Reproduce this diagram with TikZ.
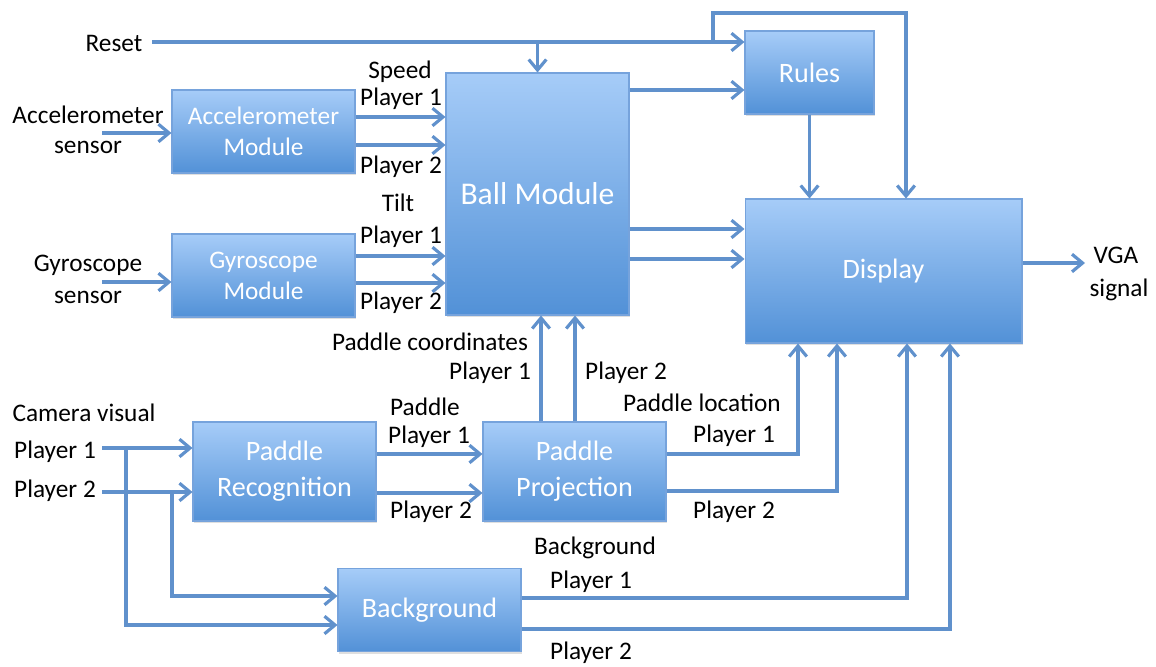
\documentclass[tikz,border=0pt]{standalone}
\usepackage{fontspec}
\setmainfont{Carlito}
\usetikzlibrary{positioning,arrows.meta,shadows}

\definecolor{boxtop}{RGB}{166,204,248}
\definecolor{boxbot}{RGB}{82,145,215}
\definecolor{boxline}{RGB}{118,163,220}
\definecolor{linkblue}{RGB}{96,145,204}

\tikzset{
  blk/.style={draw=boxline, line width=0.6pt, top color=boxtop, bottom color=boxbot,
    text=white, align=center, inner sep=0pt,
    minimum width=3.66cm, minimum height=1.66cm,
    font=\fontsize{16}{20.5}\selectfont,
    drop shadow={shadow xshift=0.8pt, shadow yshift=-1.2pt, opacity=0.25}},
  small/.style={font=\fontsize{14.4}{17.6}\selectfont},
  lbl/.style={font=\fontsize{14.4}{17.6}\selectfont, inner sep=0pt},
  arr/.style={draw=linkblue, line width=1.8pt, -{Straight Barb[length=6pt,width=10pt]}}
}

\begin{document}
\begin{tikzpicture}[x=0.02cm,y=-0.02cm]
\useasboundingbox (0,0) rectangle (1156,666);

\node[blk,small] (acc) at (263.5,131.5) {Accelerometer\\Module};
\node[blk,small] (gyr) at (263.5,275.5) {Gyroscope\\Module};
\node[blk,minimum height=4.84cm,font=\fontsize{18}{22}\selectfont] (ball) at (537.5,194) {Ball Module};
\node[blk,minimum width=2.58cm] (rules) at (809.5,72.5) {Rules};
\node[blk,minimum width=5.54cm,minimum height=2.88cm] (disp) at (883.5,271) {Display};
\node[blk,minimum height=1.98cm] (rec) at (284.5,471.5) {Paddle\\Recognition};
\node[blk,minimum height=1.98cm] (proj) at (574.5,471.5) {Paddle\\Projection};
\node[blk] (bg) at (429.5,610) {Background};

\node[lbl] (reset) at (114,43) {Reset};
\node[lbl] (accs1) at (88,115) {Accelerometer};
\node[lbl] (accs2) at (88,147) {sensor};
\node[lbl] (gyrs1) at (88,265) {Gyroscope};
\node[lbl] (gyrs2) at (88,297) {sensor};
\node[lbl] (speed) at (400,72) {Speed};
\node[lbl] (sp1) at (401,99) {Player 1};
\node[lbl] (sp2) at (401,167) {Player 2};
\node[lbl] (tilt) at (398,203) {Tilt};
\node[lbl] (tp1) at (401,237) {Player 1};
\node[lbl] (tp2) at (401,303) {Player 2};
\node[lbl] (coord) at (430,342) {Paddle coordinates};
\node[lbl] (cp1) at (490,373) {Player 1};
\node[lbl] (cp2) at (626,373) {Player 2};
\node[lbl] (cam) at (84,413) {Camera visual};
\node[lbl] (cam1) at (55,452) {Player 1};
\node[lbl] (cam2) at (55,491) {Player 2};
\node[lbl] (pad) at (425,407) {Paddle};
\node[lbl] (pad1) at (429,437) {Player 1};
\node[lbl] (pad2) at (431,512) {Player 2};
\node[lbl] (loc) at (702,403) {Paddle location};
\node[lbl] (loc1) at (734,436) {Player 1};
\node[lbl] (loc2) at (734,512) {Player 2};
\node[lbl] (back) at (595,548) {Background};
\node[lbl] (back1) at (591,582) {Player 1};
\node[lbl] (back2) at (591,653) {Player 2};
\node[lbl] (vga1) at (1116,255) {VGA};
\node[lbl] (vga2) at (1119,290) {signal};

\coordinate (rs) at (152,42);
\coordinate (rt) at (713,13);
\coordinate (rd) at (906,13);
\draw[arr] (rs) -- (rs -| rules.west);
\draw[arr] (rs -| ball.north) -- (ball.north);
\draw[arr] (rt |- rs) -- (rt) -- (rd) -- (rd |- disp.north);

\draw[arr] (ball.east |- 0,90) -- (rules.west |- 0,90);
\draw[arr] (rules.south) -- (rules.south |- disp.north);
\foreach \y in {229,259}
  \draw[arr] (ball.east |- 0,\y) -- (disp.west |- 0,\y);
\coordinate (vga) at (1085,263);
\draw[arr] (disp.east |- vga) -- (vga);

\coordinate (acci) at (102,133);
\coordinate (gyri) at (102,282);
\draw[arr] (acci) -- (acc.west |- acci);
\draw[arr] (gyri) -- (gyr.west |- gyri);
\foreach \y in {117,145}
  \draw[arr] (acc.east |- 0,\y) -- (ball.west |- 0,\y);
\foreach \y in {256,283}
  \draw[arr] (gyr.east |- 0,\y) -- (ball.west |- 0,\y);
\foreach \x in {541,575}
  \draw[arr] (\x,0 |- proj.north) -- (\x,0 |- ball.south);

\coordinate (c1) at (102,448);
\coordinate (c2) at (102,492);
\coordinate (b1) at (126,448);
\coordinate (b2) at (172,492);
\draw[arr] (c1) -- (rec.west |- c1);
\draw[arr] (c2) -- (rec.west |- c2);
\draw[arr] (b1) |- (bg.west |- 0,625);
\draw[arr] (b2) |- (bg.west |- 0,596);
\foreach \y in {454,493}
  \draw[arr] (rec.east |- 0,\y) -- (proj.west |- 0,\y);

\draw[arr] (proj.east |- 0,454) -| (798,0 |- disp.south);
\draw[arr] (proj.east |- 0,491) -| (837,0 |- disp.south);
\draw[arr] (bg.east |- 0,598) -| (907,0 |- disp.south);
\draw[arr] (bg.east |- 0,629) -| (950,0 |- disp.south);
\end{tikzpicture}
\end{document}
